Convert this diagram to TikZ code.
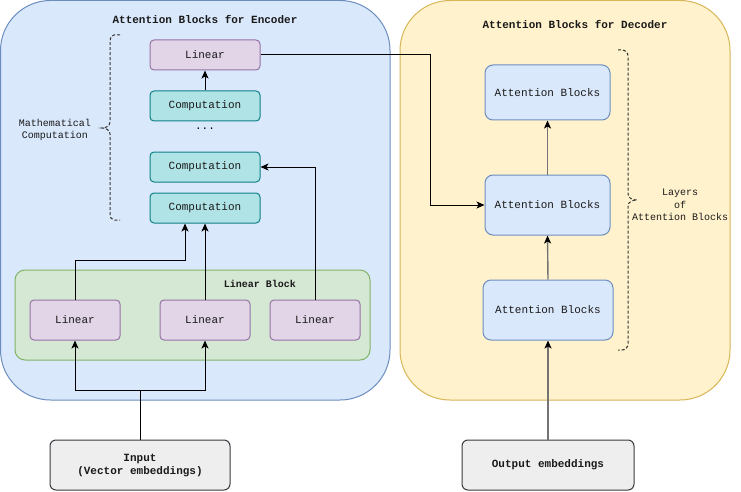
\documentclass[tikz,border=0pt]{standalone}
\usepackage{fontspec}
\setmonofont{Liberation Mono}
\usepackage{tikz}
\usetikzlibrary{arrows.meta,positioning,calc}
\definecolor{EncFill}{HTML}{DAE8FC}
\definecolor{EncDraw}{HTML}{6C8EBF}
\definecolor{DecFill}{HTML}{FFF2CC}
\definecolor{DecDraw}{HTML}{D6B656}
\definecolor{LinFill}{HTML}{E1D5E7}
\definecolor{LinDraw}{HTML}{9673A6}
\definecolor{CompFill}{HTML}{B0E3E6}
\definecolor{CompDraw}{HTML}{0E8088}
\definecolor{GrpFill}{HTML}{D5E8D4}
\definecolor{GrpDraw}{HTML}{82B366}
\definecolor{InFill}{HTML}{EEEEEE}
\definecolor{InDraw}{HTML}{36393D}
\definecolor{Ink}{HTML}{1A1A1A}

\begin{document}
\begin{tikzpicture}[x=1pt,y=-1pt,
    font=\ttfamily\fontsize{11pt}{13pt}\selectfont,
    panel/.style={rounded corners=50pt,line width=1pt},
    block/.style={rectangle,rounded corners=4pt,draw=LinDraw,fill=LinFill,line width=1pt,minimum width=110pt,minimum height=30pt,align=center,inner sep=0pt,text=Ink},
    comp/.style={block,draw=CompDraw,fill=CompFill},
    attn/.style={block,rounded corners=8pt,draw=EncDraw,fill=EncFill,minimum width=125pt,minimum height=60pt},
    embed/.style={block,rounded corners=6pt,draw=InDraw,fill=InFill,minimum width=180pt,minimum height=50pt,font=\ttfamily\bfseries\fontsize{11pt}{13pt}\selectfont},
    title/.style={font=\ttfamily\bfseries\fontsize{11pt}{13pt}\selectfont,text=Ink},
    note/.style={font=\ttfamily\fontsize{10pt}{12.5pt}\selectfont,align=center,text=Ink},
    brace/.style={dash pattern=on 3pt off 2pt,line width=1pt,draw=black!80},
    arrow/.style={-{Stealth[length=8pt,width=7pt,inset=2pt]},line width=1pt,draw=black},
    grayarrow/.style={arrow,line width=1.4pt,draw=black!55,-{Stealth[length=8pt,width=7pt,inset=2pt,color=black]}}
]
\useasboundingbox (0,0) rectangle (741,492);

% containers
\draw[panel,fill=EncFill,draw=EncDraw] (0.5,0.5) rectangle (390,400);
\draw[panel,fill=DecFill,draw=DecDraw] (400,0.5) rectangle (730,400);
\draw[rounded corners=10pt,line width=1pt,fill=GrpFill,draw=GrpDraw] (15,270) rectangle (370,360);

\node[title] (enctitle) at (205,19) {Attention Blocks for Encoder};
\node[title] (dectitle) at (575,24) {Attention Blocks for Decoder};
\node[title,font=\ttfamily\bfseries\fontsize{10pt}{12pt}\selectfont] (grptitle) at (260,284) {Linear Block};

% encoder stack
\node[block] (lintop) at (205,55) {Linear};
\node[comp,below=20pt of lintop] (comp1) {Computation};
\node[comp,below=30pt of comp1] (comp2) {Computation};
\node[comp,below=10pt of comp2] (comp3) {Computation};
\node (dots) at (205,129) {...};

% linear block
\node[block,minimum width=90pt,minimum height=40pt] (linA) at (75,320) {Linear};
\node[block,minimum width=90pt,minimum height=40pt] (linB) at (205,320) {Linear};
\node[block,minimum width=90pt,minimum height=40pt] (linC) at (315,320) {Linear};

\node[embed] (input) at (140,465) {Input\\(Vector embeddings)};

% decoder stack
\node[attn,minimum height=55pt] (ab1) at (547.5,92.5) {Attention Blocks};
\node[attn] (ab2) at (547.5,205) {Attention Blocks};
\node[attn,minimum width=130pt] (ab3) at (548,310) {Attention Blocks};
\node[embed,minimum width=172pt] (output) at (548,465) {Output embeddings};

% braces
\draw[brace] (120,35) -- (114,35) to[out=180,in=90] (110,41) -- (110,122)
  to[out=-90,in=0] (102,128) to[out=0,in=90] (110,134) -- (110,214)
  to[out=-90,in=180] (114,220) -- (120,220);
\draw[brace] (618,50) -- (622,50) to[out=0,in=90] (628,56) -- (628,194)
  to[out=-90,in=180] (637,200) to[out=180,in=90] (628,206) -- (628,344)
  to[out=-90,in=0] (622,350) -- (618,350);
\node[note] (mathnote) at (55,130) {Mathematical\\Computation};
\node[note] (layernote) at (680,205) {Layers\\of\\Attention Blocks};

% connectors
\coordinate (split) at (140,390);
\coordinate (bendA) at (185,260);
\coordinate (bendD) at (430,55);
\draw[arrow] (input.north) -- (split) -| (linA.south);
\draw[arrow] (split) -| (linB.south);
\draw[arrow] (linA.north) |- (bendA) -- ([xshift=-20pt]comp3.south);
\draw[arrow] (linB.north) -- (comp3.south);
\draw[arrow] (linC.north) |- (comp2.east);
\draw[arrow] (comp1.north) -- (lintop.south);
\draw[arrow] (lintop.east) -- (bendD) |- (ab2.west);
\draw[grayarrow] (output.north) -- (ab3.south);
\draw[grayarrow] (ab3.north) -- (ab2.south);
\draw[grayarrow] (ab2.north) -- (ab1.south);
\end{tikzpicture}
\end{document}
